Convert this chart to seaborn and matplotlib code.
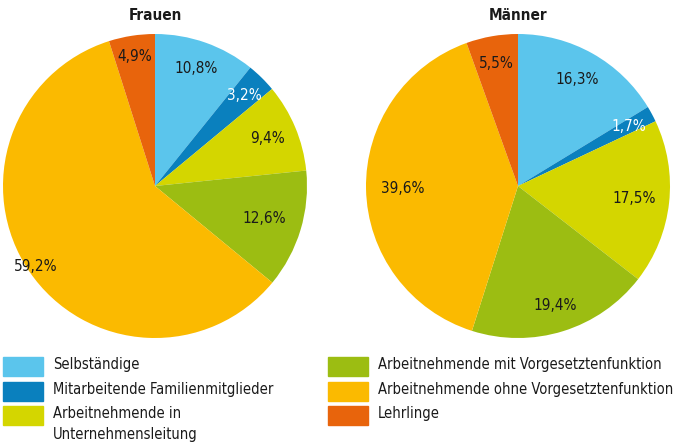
import matplotlib
matplotlib.use("Agg")
import matplotlib.pyplot as plt
import matplotlib.patches as mpatches
import numpy as np
import seaborn as sns

# data
categories = ["Selbständige", "Mitarbeitende Familienmitglieder",
              "Arbeitnehmende in\nUnternehmensleitung",
              "Arbeitnehmende mit Vorgesetztenfunktion",
              "Arbeitnehmende ohne Vorgesetztenfunktion", "Lehrlinge"]
frauen = [10.8, 3.2, 9.4, 12.6, 59.2, 4.9]
maenner = [16.3, 1.7, 17.5, 19.4, 39.6, 5.5]
titles = ["Frauen", "Männer"]

colors = ["#5bc5ec", "#0a80be", "#d4d600", "#9cbd12", "#fbba00", "#e8640c"]
label_colors = ["#1a1a1a", "white", "#1a1a1a", "#1a1a1a", "#1a1a1a", "#1a1a1a"]

sns.set_theme(style="white")
plt.rcParams['font.family'] = ['DejaVu Sans']
plt.rcParams['font.stretch'] = 'condensed'

fig = plt.figure(figsize=(6.77, 4.47), dpi=100)

axes_pos = [[3/677, 109/447, 304/677, 304/447],
            [366/677, 109/447, 304/677, 304/447]]
dists = [[0.82, 0.84, 0.80, 0.75, 0.95, 0.86],
         [0.80, 0.83, 0.77, 0.82, 0.76, 0.82]]


def fmt(v):
    return ("%.1f" % v).replace(".", ",") + "%"


for vals, title, pos, dd in zip([frauen, maenner], titles, axes_pos, dists):
    ax = fig.add_axes(pos)
    wedges, _ = ax.pie(vals, colors=colors, startangle=90, counterclock=False,
                       wedgeprops=dict(linewidth=0), radius=1)
    for w, v, d, c in zip(wedges, vals, dd, label_colors):
        ang = np.deg2rad((w.theta1 + w.theta2) / 2)
        ax.text(d * np.cos(ang), d * np.sin(ang), fmt(v), ha="center", va="center",
                fontsize=11, color=c)
    ax.set_xlim(-1, 1)
    ax.set_ylim(-1, 1)
    ax.set_aspect("equal")
    ax.axis("off")
    fig.text(pos[0] + pos[2] / 2, 1 - 16/447, title, ha="center", va="center",
             fontsize=11, fontweight="bold", color="#1a1a1a")

handles = [mpatches.Patch(color=c, label=l) for c, l in zip(colors, categories)]
common = dict(frameon=False, fontsize=10.5, handlelength=2.74, handleheight=1.63,
              handletextpad=0.68, labelspacing=0.38, borderpad=0, borderaxespad=0,
              labelcolor="#1a1a1a", loc="upper left")
leg1 = fig.legend(handles=handles[:3], bbox_to_anchor=(3/677, 1 - 357/447), **common)
leg2 = fig.legend(handles=handles[3:], bbox_to_anchor=(328/677, 1 - 357/447), **common)
for leg in [leg1, leg2]:
    for t in leg.get_texts():
        t.set_linespacing(1.45)
    for col in leg._legend_handle_box.get_children():
        for row in col.get_children():
            row.align = "top"

fig.savefig("out.png", dpi=100)
